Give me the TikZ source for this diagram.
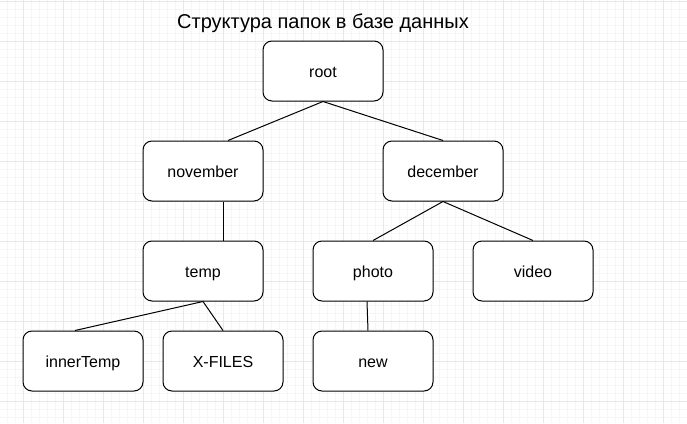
\documentclass[tikz,border=0pt]{standalone}
\usepackage{fontspec}
\setmainfont{Liberation Sans}
\definecolor{gridminor}{RGB}{246,246,246}
\definecolor{gridmajor}{RGB}{232,232,232}
\tikzset{
  box/.style={draw=black, line width=1pt, fill=white, rounded corners=9pt,
    minimum width=120pt, minimum height=60pt, inner sep=0pt,
    text height=13pt, text depth=0pt, font=\fontsize{16pt}{19pt}\selectfont},
  link/.style={draw=black, line width=1pt},
  minorline/.style={draw=gridminor, line width=1pt},
  majorline/.style={draw=gridmajor, line width=1pt}
}
\begin{document}
\begin{tikzpicture}[x=1pt, y=-1pt]
\useasboundingbox (0,0) rectangle (687,423);
\fill[white] (0,0) rectangle (687,423);
% grid
\foreach \x in {7,15,...,687} \draw[minorline] (\x,0) -- (\x,423);
\foreach \y in {1,9,...,423} \draw[minorline] (0,\y) -- (687,\y);
\foreach \x in {23,63,...,687} \draw[majorline] (\x,0) -- (\x,423);
\foreach \y in {1,41,...,423} \draw[majorline] (0,\y) -- (687,\y);
% title
\node[anchor=base, inner sep=0pt, font=\fontsize{20pt}{24pt}\selectfont] (title) at (323,28) {Структура папок в базе данных};
% nodes
\node[box] (root) at (323,71) {root};
\node[box] (nov) at (203,171) {november};
\node[box] (dec) at (443,171) {december};
\node[box] (temp) at (203,271) {temp};
\node[box] (photo) at (373,271) {photo};
\node[box] (video) at (533,271) {video};
\node[box] (inner) at (83,361) {innerTemp};
\node[box] (xfiles) at (223,361) {X-FILES};
\node[box] (new) at (373,361) {new};
% connectors
\draw[link] (root.south) -- ([xshift=25pt]nov.north);
\draw[link] (root.south) -- (dec.north);
\draw[link] ([xshift=20pt]nov.south) -- ([xshift=20pt]temp.north);
\draw[link] (temp.south) -- ([xshift=-8pt]inner.north);
\draw[link] (temp.south) -- (xfiles.north);
\draw[link] (dec.south) -- (photo.north);
\draw[link] (dec.south) -- (video.north);
\draw[link] ([xshift=-6pt]photo.south) -- ([xshift=-5pt]new.north);
\end{tikzpicture}
\end{document}
